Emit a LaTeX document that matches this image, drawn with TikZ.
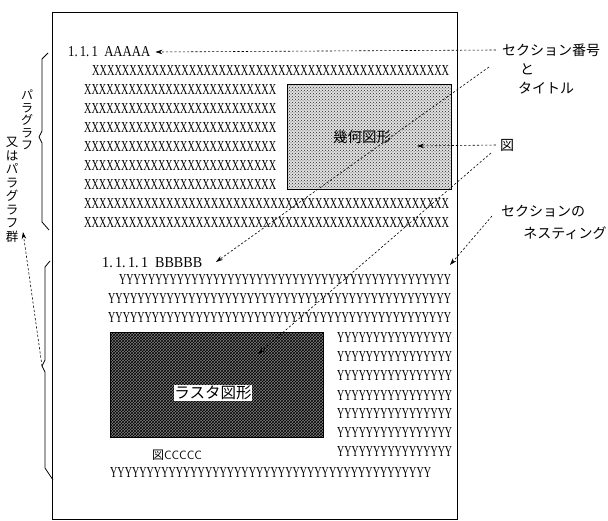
\documentclass[tikz,border=0pt]{standalone}
\usepackage{fontspec}
\newfontfamily\cjk{Noto Sans CJK JP}
\newfontfamily\rowfont{Liberation Serif}
\usetikzlibrary{arrows.meta,patterns}
\ExplSyntaxOn
\cs_new:Npn \myrep #1#2 { \prg_replicate:nn {#1} {#2} }
\ExplSyntaxOff
\newcommand\trow[3]{\resizebox{#1pt}{#2pt}{\rowfont #3}}
\begin{document}
\begin{tikzpicture}[x=1pt,y=-1pt,
  rowtxt/.style={anchor=west,inner sep=0pt},
  jlabel/.style={font=\cjk\fontsize{14}{16}\selectfont,inner sep=0pt},
  vlabel/.style={align=center,inner sep=0pt,anchor=north},
  dl/.style={dash pattern=on 2.2pt off 2pt,line width=0.6pt},
  arr/.style={-{Stealth[length=7pt,width=4.5pt]}},
  bracel/.style={line width=0.8pt,line join=round},
  figbox/.style={draw,line width=0.8pt,anchor=north west,inner sep=0pt}]
\useasboundingbox (0,0) rectangle (608,521);
% page
\draw[line width=1pt] (52,13) rectangle (457,519);
% section 1.1.1
\node[rowtxt] (aaa) at (68,52) {\trow{82}{10}{1.\,1.\,1\ \ AAAAA}};
\node[rowtxt] (x1) at (92,71) {\trow{357}{10}{\myrep{48}{X}}};
\foreach \i/\yy in {2/90,3/109,4/128,5/147,6/166,7/185}
  \node[rowtxt] (x\i) at (84,\yy) {\trow{192}{10}{\myrep{26}{X}}};
\node[rowtxt] (x8) at (84,204) {\trow{365}{10}{\myrep{49}{X}}};
\node[rowtxt] (x9) at (84,223) {\trow{365}{10}{\myrep{49}{X}}};
% geometric figure
\node[figbox,minimum width=164pt,minimum height=105pt,
      preaction={fill=black!12},pattern=crosshatch dots,pattern color=black!85] (geo) at (287,84) {};
\node[font=\cjk\fontsize{14.5}{16}\selectfont,inner sep=0pt] (geolab) at (362,137) {幾何図形};
% section 1.1.1.1
\node[rowtxt] (bbb) at (102,263) {\trow{100}{10}{1.\,1.\,1.\,1\ \ BBBBB}};
\node[rowtxt] (y1) at (119,280) {\trow{332}{10}{\myrep{46}{Y}}};
\node[rowtxt] (y2) at (108,299) {\trow{343}{10}{\myrep{47}{Y}}};
\node[rowtxt] (y3) at (108,318) {\trow{343}{10}{\myrep{47}{Y}}};
\foreach \i/\yy in {4/338,5/357,6/376,7/395,8/414,9/433,10/452}
  \node[rowtxt] (y\i) at (337,\yy) {\trow{115}{10}{\myrep{16}{Y}}};
\node[rowtxt] (y11) at (110,472) {\trow{321}{10}{\myrep{44}{Y}}};
% raster figure
\node[figbox,minimum width=213pt,minimum height=105pt,
      preaction={fill=black!50},pattern=crosshatch,pattern color=black] (ras) at (110,332) {};
\node[font=\cjk\fontsize{15.5}{17}\selectfont,fill=white,inner sep=0.5pt] (raslab) at (213,393) {ラスタ図形};
\node[inner sep=0pt] (cap) at (177,455) {{\cjk\fontsize{12}{14}\selectfont 図}{\sffamily\fontsize{12}{14}\selectfont CCCCC}};
% braces
\draw[bracel] (48,53) -- (42,59) -- (42,131) -- (39,137) -- (42,143) -- (42,222) -- (49,230);
\draw[bracel] (50,261) -- (45,267) -- (45,360) -- (42,366) -- (45,372) -- (45,468) -- (53,480);
\coordinate (b2tip) at (42,366);
% left vertical labels
\node[vlabel,font=\cjk\fontsize{12}{12.4}\selectfont] (para1) at (27,90) {パ\\ラ\\グ\\ラ\\フ};
\node[vlabel,font=\cjk\fontsize{12.5}{13.5}\selectfont] (para2) at (12,137) {又\\は\\パ\\ラ\\グ\\ラ\\フ\\群};
\coordinate (grptip) at (23,232);
\draw[dl,arr] (b2tip) -- (grptip);
% right labels
\node[jlabel] (secnum) at (551,50) {セクション番号};
\node[jlabel] (to) at (527,69) {と};
\node[jlabel] (title) at (546,88) {タイトル};
\node[jlabel] (fig) at (507,145) {図};
\node[jlabel] (nest1) at (543,211) {セクションの};
\node[jlabel] (nest2) at (565,233) {ネスティング};
% connectors
\coordinate (c2) at (489,67);
\coordinate (bbbtip) at (216,262);
\coordinate (geotip) at (417,146);
\coordinate (c4) at (491,153);
\coordinate (rastip) at (258,354);
\coordinate (c5) at (492,216);
\coordinate (nesttip) at (450,265);
\draw[dl,arr] ([xshift=-6pt]secnum.west) -- ([xshift=5pt]aaa.east);
\draw[dl,arr] (c2) -- (bbbtip);
\draw[dl,arr] ([xshift=-4pt]fig.west) -- (geotip);
\draw[dl,arr] (c4) -- (rastip);
\draw[dl,arr] (c5) -- (nesttip);
\end{tikzpicture}
\end{document}
